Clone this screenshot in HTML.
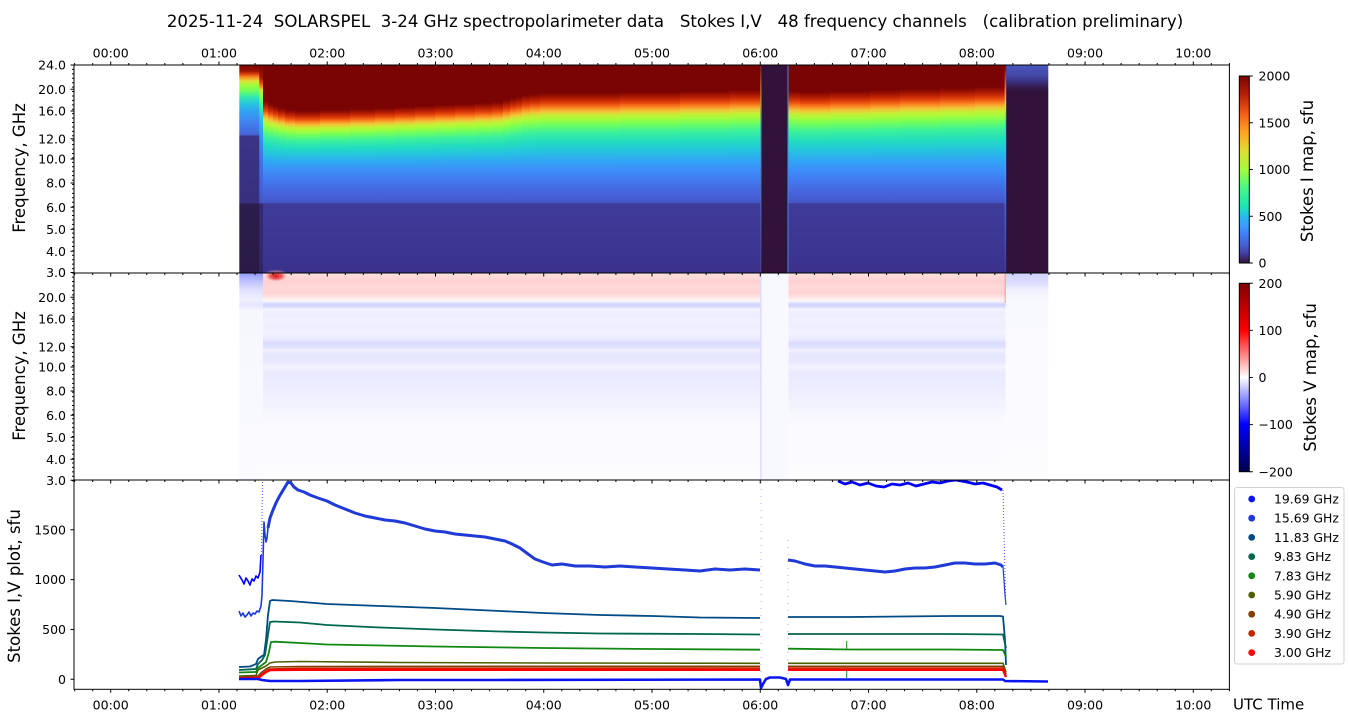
<!DOCTYPE html>
<html><head><meta charset="utf-8"><style>
html,body{margin:0;padding:0;background:#fff;}
svg{display:block;font-family:"DejaVu Sans","Liberation Sans",sans-serif;}
</style></head><body>
<svg width="1350" height="725" viewBox="0 0 1350 725" xmlns="http://www.w3.org/2000/svg">
<defs>
<linearGradient id="gU" x1="0" y1="0" x2="0" y2="1">
<stop offset="0" stop-color="#7a0403"/><stop offset=".049" stop-color="#a01402"/><stop offset=".098" stop-color="#c82a06"/><stop offset=".146" stop-color="#ea4f0f"/><stop offset=".195" stop-color="#fb8a22"/><stop offset=".244" stop-color="#f0c53a"/><stop offset=".293" stop-color="#c4f036"/><stop offset=".341" stop-color="#a4fc3c"/><stop offset=".415" stop-color="#6efe5f"/><stop offset=".512" stop-color="#3bf09c"/><stop offset=".634" stop-color="#22dcbf"/><stop offset=".756" stop-color="#26c3e0"/><stop offset=".878" stop-color="#30a6f4"/><stop offset="1" stop-color="#3c8ef8"/>
</linearGradient>
<linearGradient id="gL" gradientUnits="userSpaceOnUse" x1="0" y1="170" x2="0" y2="273">
<stop offset="0" stop-color="#3c8ef8"/><stop offset=".097" stop-color="#427af0"/><stop offset=".194" stop-color="#4668e0"/><stop offset=".291" stop-color="#465bcf"/><stop offset=".32" stop-color="#4556c6"/><stop offset=".325" stop-color="#3f3b98"/><stop offset=".68" stop-color="#3d3794"/><stop offset="1" stop-color="#3a318c"/>
</linearGradient>
<linearGradient id="gE" gradientUnits="userSpaceOnUse" x1="0" y1="65" x2="0" y2="273">
<stop offset="0" stop-color="#7a0403"/><stop offset=".029" stop-color="#9a1202"/><stop offset=".043" stop-color="#d8400c"/><stop offset=".058" stop-color="#fb8a22"/><stop offset=".077" stop-color="#dfe035"/><stop offset=".096" stop-color="#a4fc3c"/><stop offset=".125" stop-color="#6efe5f"/><stop offset=".154" stop-color="#30e8b0"/><stop offset=".188" stop-color="#26c3e0"/><stop offset=".226" stop-color="#32a0f4"/><stop offset=".274" stop-color="#4282ee"/><stop offset=".327" stop-color="#4668dc"/><stop offset=".337" stop-color="#4660d4"/><stop offset=".341" stop-color="#3a3487"/><stop offset=".663" stop-color="#37307e"/><stop offset=".668" stop-color="#2c1d4c"/><stop offset="1" stop-color="#2b1a47"/>
</linearGradient>
<linearGradient id="gT" gradientUnits="userSpaceOnUse" x1="0" y1="65" x2="0" y2="273">
<stop offset="0" stop-color="#7a0403"/><stop offset=".0625" stop-color="#a01402"/><stop offset=".091" stop-color="#ea5a12"/><stop offset=".12" stop-color="#e8d838"/><stop offset=".149" stop-color="#90fc48"/><stop offset=".197" stop-color="#40eea0"/><stop offset=".255" stop-color="#24c8dc"/><stop offset=".337" stop-color="#3896f4"/><stop offset=".457" stop-color="#4472e8"/><stop offset=".601" stop-color="#4660d6"/><stop offset=".663" stop-color="#4456c4"/><stop offset=".668" stop-color="#352a70"/><stop offset="1" stop-color="#332866"/>
</linearGradient>
<linearGradient id="gR" gradientUnits="userSpaceOnUse" x1="0" y1="65" x2="0" y2="273">
<stop offset="0" stop-color="#4a56bc"/><stop offset=".05" stop-color="#4448a8"/><stop offset=".08" stop-color="#3a2f80"/><stop offset=".11" stop-color="#32184a"/><stop offset=".13" stop-color="#30123b"/><stop offset="1" stop-color="#30123b"/>
</linearGradient>
<linearGradient id="gVl" gradientUnits="userSpaceOnUse" x1="0" y1="65" x2="0" y2="273">
<stop offset="0" stop-color="#7a0403"/><stop offset=".12" stop-color="#f08020"/><stop offset=".2" stop-color="#e0e040"/><stop offset=".3" stop-color="#30e0c0"/><stop offset=".5" stop-color="#3e9bfe"/><stop offset=".7" stop-color="#4460d0"/><stop offset="1" stop-color="#3e3a95"/>
</linearGradient>
<linearGradient id="vM" gradientUnits="userSpaceOnUse" x1="0" y1="273" x2="0" y2="480">
<stop offset="0" stop-color="#ffe4e4"/><stop offset=".014" stop-color="#ffdcdc"/><stop offset=".039" stop-color="#ffd0d0"/><stop offset=".068" stop-color="#ffd8d8"/><stop offset=".097" stop-color="#ffd2d2"/><stop offset=".116" stop-color="#ffe2e2"/><stop offset=".13" stop-color="#fff4f4"/><stop offset=".14" stop-color="#f0f0ff"/><stop offset=".15" stop-color="#d0d0ff"/><stop offset=".164" stop-color="#dcdcff"/><stop offset=".174" stop-color="#f4f4ff"/><stop offset=".198" stop-color="#ececff"/><stop offset=".227" stop-color="#f0f0ff"/><stop offset=".256" stop-color="#eeeeff"/><stop offset=".29" stop-color="#f2f2ff"/><stop offset=".324" stop-color="#e8e8ff"/><stop offset=".338" stop-color="#dadaff"/><stop offset=".357" stop-color="#e0e0ff"/><stop offset=".372" stop-color="#f0f0ff"/><stop offset=".396" stop-color="#e6e6ff"/><stop offset=".43" stop-color="#e8e8ff"/><stop offset=".454" stop-color="#f2f2ff"/><stop offset=".483" stop-color="#eaeaff"/><stop offset=".541" stop-color="#ececff"/><stop offset=".589" stop-color="#efefff"/><stop offset=".662" stop-color="#f4f4ff"/><stop offset=".71" stop-color="#f9f9ff"/><stop offset="1" stop-color="#fcfcff"/>
</linearGradient>
<linearGradient id="vE" gradientUnits="userSpaceOnUse" x1="0" y1="273" x2="0" y2="480">
<stop offset="0" stop-color="#9098ff"/><stop offset=".034" stop-color="#b8bcff"/><stop offset=".082" stop-color="#e0e0ff"/><stop offset=".13" stop-color="#f0f0ff"/><stop offset=".155" stop-color="#e4e4ff"/><stop offset=".18" stop-color="#f6f6ff"/><stop offset="1" stop-color="#fafaff"/>
</linearGradient>
<linearGradient id="vP" gradientUnits="userSpaceOnUse" x1="0" y1="273" x2="0" y2="480">
<stop offset="0" stop-color="#d0d0ff"/><stop offset=".048" stop-color="#dcdcff"/><stop offset=".082" stop-color="#f0f0ff"/><stop offset=".13" stop-color="#f8f8ff"/><stop offset="1" stop-color="#fcfcff"/>
</linearGradient>
<radialGradient id="rb">
<stop offset="0" stop-color="#d81010"/><stop offset=".5" stop-color="#ee5050" stop-opacity=".8"/><stop offset="1" stop-color="#ffffff" stop-opacity="0"/>
</radialGradient>
<linearGradient id="cI" x1="0" y1="0" x2="0" y2="1">
<stop offset="0" stop-color="#7a0403"/><stop offset=".1" stop-color="#b72008"/><stop offset=".2" stop-color="#f45c17"/><stop offset=".3" stop-color="#ffa323"/><stop offset=".4" stop-color="#e0dc32"/><stop offset=".5" stop-color="#a4fc3c"/><stop offset=".6" stop-color="#46f884"/><stop offset=".7" stop-color="#1ae4b6"/><stop offset=".75" stop-color="#28bceb"/><stop offset=".8" stop-color="#3e9bfe"/><stop offset=".85" stop-color="#417bf5"/><stop offset=".9" stop-color="#4662d7"/><stop offset=".95" stop-color="#433e9f"/><stop offset="1" stop-color="#30123b"/>
</linearGradient>
<linearGradient id="cV" x1="0" y1="0" x2="0" y2="1">
<stop offset="0" stop-color="#800000"/><stop offset=".25" stop-color="#ff0000"/><stop offset=".5" stop-color="#ffffff"/><stop offset=".75" stop-color="#0000ff"/><stop offset="1" stop-color="#00004c"/>
</linearGradient>
<clipPath id="cb"><rect x="74" y="480" width="1155.4" height="209.3"/></clipPath>
<g id="xt" stroke="#000" stroke-width="1" fill="none">
<path d="M74.62 0v2M92.66 0v2M128.74 0v2M146.79 0v2M164.83 0v2M182.87 0v2M200.92 0v2M237 0v2M255.05 0v2M273.09 0v2M291.13 0v2M309.18 0v2M345.26 0v2M363.31 0v2M381.35 0v2M399.39 0v2M417.44 0v2M453.52 0v2M471.57 0v2M489.61 0v2M507.65 0v2M525.7 0v2M561.78 0v2M579.83 0v2M597.87 0v2M615.91 0v2M633.96 0v2M670.04 0v2M688.09 0v2M706.13 0v2M724.17 0v2M742.22 0v2M778.3 0v2M796.35 0v2M814.39 0v2M832.43 0v2M850.48 0v2M886.56 0v2M904.61 0v2M922.65 0v2M940.69 0v2M958.74 0v2M994.82 0v2M1012.87 0v2M1030.91 0v2M1048.95 0v2M1067 0v2M1103.08 0v2M1121.13 0v2M1139.17 0v2M1157.21 0v2M1175.26 0v2M1211.34 0v2M1229.39 0v2"/>
<path d="M110.7 0v3.5M218.96 0v3.5M327.22 0v3.5M435.48 0v3.5M543.74 0v3.5M652 0v3.5M760.26 0v3.5M868.52 0v3.5M976.78 0v3.5M1085.04 0v3.5M1193.3 0v3.5"/>
</g>
<path id="ym" stroke="#000" stroke-width="1" fill="none" d="M74 65h-2m2 4.4255h-2m2 4.4255h-2m2 4.4255h-2m2 4.4255h-2m2 4.4255h-2m2 4.4255h-2m2 4.4255h-2m2 4.4255h-2m2 4.4255h-2m2 4.4255h-2m2 4.4255h-2m2 4.4255h-2m2 4.4255h-2m2 4.4255h-2m2 4.4255h-2m2 4.4255h-2m2 4.4255h-2m2 4.4255h-2m2 4.4255h-2m2 4.4255h-2m2 4.4255h-2m2 4.4255h-2m2 4.4255h-2m2 4.4255h-2m2 4.4255h-2m2 4.4255h-2m2 4.4255h-2m2 4.4255h-2m2 4.4255h-2m2 4.4255h-2m2 4.4255h-2m2 4.4255h-2m2 4.4255h-2m2 4.4255h-2m2 4.4255h-2m2 4.4255h-2m2 4.4255h-2m2 4.4255h-2m2 4.4255h-2m2 4.4255h-2m2 4.4255h-2m2 4.4255h-2m2 4.4255h-2m2 4.4255h-2m2 4.4255h-2m2 4.4255h-2m2 4.4255h-2"/>
</defs>

<rect width="1350" height="725" fill="#fff"/>

<text x="675" y="27" font-size="16.6" text-anchor="middle" style="white-space:pre" xml:space="preserve">2025-11-24  SOLARSPEL  3-24 GHz spectropolarimeter data   Stokes I,V   48 frequency channels   (calibration preliminary)</text>

<!-- ===== Top panel (Stokes I map) ===== -->
<rect x="239.3" y="65" width="20.3" height="208" fill="url(#gE)"/>
<rect x="259.3" y="65" width="4.2" height="208" fill="url(#gT)"/>
<rect x="263" y="65" width="497.3" height="50" fill="#7a0403"/>
<rect x="788.3" y="65" width="217.4" height="50" fill="#7a0403"/>
<g fill="url(#gU)">
<rect x="263" y="101" width="5.5" height="69"/>
<rect x="268" y="104" width="5.5" height="66"/>
<rect x="273" y="106" width="5.5" height="64"/>
<rect x="278" y="108" width="7.5" height="62"/>
<rect x="285" y="110" width="10.5" height="60"/>
<rect x="295" y="111" width="25.5" height="59"/>
<rect x="320" y="110" width="30.5" height="60"/>
<rect x="350" y="109" width="25.5" height="61"/>
<rect x="375" y="108" width="20.5" height="62"/>
<rect x="395" y="107" width="20.5" height="63"/>
<rect x="415" y="106" width="20.5" height="64"/>
<rect x="435" y="105" width="20.5" height="65"/>
<rect x="455" y="104" width="20.5" height="66"/>
<rect x="475" y="103" width="17.5" height="67"/>
<rect x="492" y="102" width="11.5" height="68"/>
<rect x="503" y="100" width="7.5" height="70"/>
<rect x="510" y="98" width="6.5" height="72"/>
<rect x="516" y="97" width="6.5" height="73"/>
<rect x="522" y="95" width="8.5" height="75"/>
<rect x="530" y="94" width="10.5" height="76"/>
<rect x="540" y="93" width="80.5" height="77"/>
<rect x="620" y="92" width="60.5" height="78"/>
<rect x="680" y="91" width="50.5" height="79"/>
<rect x="730" y="90" width="30.3" height="80"/>
<rect x="788.3" y="91" width="12" height="79"/>
<rect x="800" y="92" width="30.5" height="78"/>
<rect x="830" y="91" width="40.5" height="79"/>
<rect x="870" y="90" width="30.5" height="80"/>
<rect x="900" y="89" width="40.5" height="81"/>
<rect x="940" y="88" width="35.5" height="82"/>
<rect x="975" y="87" width="30.7" height="83"/>
</g>
<rect x="263" y="170" width="497.3" height="103" fill="url(#gL)"/>
<rect x="788.3" y="170" width="217.4" height="103" fill="url(#gL)"/>
<rect x="760.3" y="65" width="28" height="208" fill="#30123b"/>
<rect x="760.3" y="65" width="1.2" height="208" fill="url(#gVl)" opacity=".8"/>
<rect x="787.3" y="65" width="1.2" height="208" fill="#3a9af0" opacity=".7"/>
<rect x="1005.7" y="65" width="42.6" height="208" fill="url(#gR)"/>
<rect x="1004.6" y="65" width="1.6" height="208" fill="url(#gVl)"/>

<!-- ===== Middle panel (Stokes V map) ===== -->
<rect x="239.3" y="273" width="24" height="207" fill="url(#vE)"/>
<rect x="263" y="273" width="497.3" height="207" fill="url(#vM)"/>
<rect x="788.3" y="273" width="217.4" height="207" fill="url(#vM)"/>
<rect x="760.3" y="273" width="28" height="207" fill="#f8f8ff"/>
<rect x="760.3" y="273" width="1.2" height="207" fill="#c0c0ff" opacity=".6"/>
<rect x="1005.7" y="273" width="42.6" height="207" fill="url(#vP)"/>
<rect x="1004.6" y="273" width="1.4" height="30" fill="#ff8080" opacity=".6"/>
<ellipse cx="276" cy="276" rx="13" ry="6.5" fill="url(#rb)"/>

<!-- ===== Bottom panel (lines) ===== -->
<g clip-path="url(#cb)" fill="none" stroke-linejoin="round">
<line x1="761" y1="482" x2="761" y2="675" stroke="#7070ff" stroke-width="1" stroke-dasharray="1 6" opacity=".6"/>
<line x1="788" y1="540" x2="788" y2="675" stroke="#7070ff" stroke-width="1" stroke-dasharray="1 6" opacity=".6"/>
<polyline stroke="#0000ff" stroke-width="1.6" points="239,575 242,580 244,584 246,578 248,581 250,585 252,579 254,581 256,576 258,578 260,572 261,555"/>
<line x1="261.5" y1="555" x2="262.5" y2="480" stroke="#0000ff" stroke-width="1" stroke-dasharray="1 2" opacity=".7"/>
<polyline stroke="#0000ff" stroke-width="2.8" points="838,481 845,484 852,482 860,485 868,483 876,486 884,487 892,484 900,485 908,483 916,486 924,484 932,482 940,483 948,481 956,480 967,482 975,484 983,483 990,485 997,487 1002,490"/>
<line x1="1003" y1="490" x2="1005.5" y2="596" stroke="#0000ff" stroke-width="1" stroke-dasharray="1 2" opacity=".7"/>
<polyline stroke="#1f3ad6" stroke-width="1.6" points="239,611 241,616 243,613 245,617 247,615 249,612 251,616 253,613 255,614 257,611 259,612 261,606 262,595 263,560 264,522 265,535 266,542 267,538 268,528"/>
<polyline stroke="#1f3ad6" stroke-width="3" points="268,528 270,518 273,510 276,503 279,497 282,492 285,487 288,482 291,483 294,487 298,490 304,492 310,495 318,498 327,501 335,505 345,509 355,513 365,516 375,518 385,520 395,521 405,523 415,526 425,529 435,531 445,532 455,534 465,535 475,536 485,537 495,539 505,541 512,544 520,548 528,554 535,559 543,562 552,565 562,564 575,566 590,566 605,567 620,566 635,567 652,568 668,569 685,570 700,571 715,569 730,570 745,569 760,570"/>
<polyline stroke="#1f3ad6" stroke-width="3" points="788,560 795,561 805,564 815,566 825,566 835,567 845,568 855,569 865,570 875,571 885,572 895,571 905,569 915,568 925,568 935,567 945,565 955,563 965,563 975,564 985,564 995,563 1001,565 1003,567"/>
<polyline stroke="#1f3ad6" stroke-width="1.2" points="1003,567 1004,580 1005,595 1006,605"/>
<polyline stroke="#004a86" stroke-width="1.8" points="239,667 250,666.5 256,664 258,659 262,656 264,655 266,640 268,615 270,601 272,600 290,601 327,604 380,606 435,608 500,611 543,613 600,615 652,616 700,617.5 760,618"/>
<polyline stroke="#004a86" stroke-width="1.8" points="788,617 850,617 900,616.5 950,616 1000,616 1003,616.5 1005,640 1006,665"/>
<polyline stroke="#00664f" stroke-width="1.8" points="239,670 256,669 258,664 262,660 265,655 268,635 270,622 274,621.5 300,622.5 327,625 380,627.5 435,629.5 500,631.5 543,632.5 600,633.5 700,634 760,634.5"/>
<polyline stroke="#00664f" stroke-width="1.8" points="788,634 850,634 950,634 1003,634.5 1006,648"/>
<polyline stroke="#118811" stroke-width="1.8" points="239,672.5 256,672 258,668 262,665 266,662 269,652 271,642 275,641.7 300,643 327,644.5 435,646.5 543,648 652,649 760,649.7"/>
<polyline stroke="#118811" stroke-width="1.8" points="788,648.7 850,649.5 950,649.5 1003,650 1006,657"/>
<path stroke="#118811" stroke-width="1" d="M846.7 641V650M846.7 670V678"/>
<polyline stroke="#4b6100" stroke-width="1.6" points="239,676 256,675.5 258,670 262,668 266,666 270,663 275,662 300,661.5 400,662.5 543,663 760,663.3"/>
<polyline stroke="#4b6100" stroke-width="1.6" points="788,663.3 1003,663.3 1006,672"/>
<polyline stroke="#7f4000" stroke-width="1.6" points="239,677.5 258,676 262,672 266,669 270,667 300,666.5 543,666.3 760,666.3"/>
<polyline stroke="#7f4000" stroke-width="1.6" points="788,666.3 1003,666.3 1006,674"/>
<polyline stroke="#c42800" stroke-width="1.6" points="239,678 258,677 262,674 266,671 270,669 300,668.3 760,668"/>
<polyline stroke="#c42800" stroke-width="1.6" points="788,668 1003,668 1006,676"/>
<polyline stroke="#ff0000" stroke-width="2.4" points="239,678.5 258,678 262,675 266,672 270,670 300,669.8 760,669.8"/>
<polyline stroke="#ff0000" stroke-width="2.4" points="788,669.8 1003,669.8 1006,677"/>
<polyline stroke="#0a14f0" stroke-width="2.6" points="239,679 258,679 262,680 270,681 300,681 400,680 500,680 760,679.5 761,688 763,684 766,679 770,677.5 780,677.5 786,679 788,685 790,679.5 1003,679.5 1005,681 1048,681.5"/>
</g>

<!-- ===== Spines ===== -->
<g fill="none" stroke="#000" stroke-width="1">
<rect x="74" y="65" width="1155.4" height="208"/>
<rect x="74" y="273" width="1155.4" height="207"/>
<rect x="74" y="480" width="1155.4" height="209.3"/>
</g>

<!-- ===== X ticks ===== -->
<use href="#xt" transform="translate(0,65) scale(1,-1)"/>
<use href="#xt" transform="translate(0,273)"/>
<use href="#xt" transform="translate(0,480)"/>
<use href="#xt" transform="translate(0,689.3)"/>

<g font-size="12.5" text-anchor="middle" fill="#000">
<text x="110.7" y="57.3">00:00</text><text x="218.96" y="57.3">01:00</text><text x="327.22" y="57.3">02:00</text><text x="435.48" y="57.3">03:00</text><text x="543.74" y="57.3">04:00</text><text x="652" y="57.3">05:00</text><text x="760.26" y="57.3">06:00</text><text x="868.52" y="57.3">07:00</text><text x="976.78" y="57.3">08:00</text><text x="1085.04" y="57.3">09:00</text><text x="1193.3" y="57.3">10:00</text>
<text x="110.7" y="709.3">00:00</text><text x="218.96" y="709.3">01:00</text><text x="327.22" y="709.3">02:00</text><text x="435.48" y="709.3">03:00</text><text x="543.74" y="709.3">04:00</text><text x="652" y="709.3">05:00</text><text x="760.26" y="709.3">06:00</text><text x="868.52" y="709.3">07:00</text><text x="976.78" y="709.3">08:00</text><text x="1085.04" y="709.3">09:00</text><text x="1193.3" y="709.3">10:00</text>
</g>
<text x="1233" y="709.5" font-size="15">UTC Time</text>

<!-- ===== Y ticks ===== -->
<use href="#ym"/>
<use href="#ym" transform="translate(0,207.7)"/>
<path stroke="#000" stroke-width="1" fill="none" d="M74 65h-3.5M74 89.3h-3.5M74 111h-3.5M74 138.7h-3.5M74 159h-3.5M74 183h-3.5M74 207.3h-3.5M74 229.3h-3.5M74 251.3h-3.5M74 272.5h-3.5M74 297.3h-3.5M74 319h-3.5M74 346.7h-3.5M74 367h-3.5M74 391h-3.5M74 415.3h-3.5M74 437.3h-3.5M74 459.3h-3.5M74 480.3h-3.5M74 679.3h-3.5M74 629.5h-3.5M74 579.6h-3.5M74 529.8h-3.5"/>
<g font-size="12.5" text-anchor="end" fill="#000">
<text x="66" y="69.6">24.0</text><text x="66" y="93.9">20.0</text><text x="66" y="115.6">16.0</text><text x="66" y="143.3">12.0</text><text x="66" y="163.6">10.0</text><text x="66" y="187.6">8.0</text><text x="66" y="211.9">6.0</text><text x="66" y="233.9">5.0</text><text x="66" y="255.9">4.0</text><text x="66" y="277.1">3.0</text>
<text x="66" y="301.9">20.0</text><text x="66" y="323.6">16.0</text><text x="66" y="351.3">12.0</text><text x="66" y="371.6">10.0</text><text x="66" y="395.6">8.0</text><text x="66" y="419.9">6.0</text><text x="66" y="441.9">5.0</text><text x="66" y="463.9">4.0</text><text x="66" y="484.9">3.0</text>
<text x="66" y="683.9">0</text><text x="66" y="634.1">500</text><text x="66" y="584.2">1000</text><text x="66" y="534.4">1500</text>
</g>
<g font-size="16.5" text-anchor="middle" fill="#000">
<text transform="translate(25,168) rotate(-90)">Frequency, GHz</text>
<text transform="translate(25,376) rotate(-90)">Frequency, GHz</text>
<text transform="translate(20,586) rotate(-90)">Stokes I,V plot, sfu</text>
<text transform="translate(1313,171) rotate(-90)">Stokes I map, sfu</text>
<text transform="translate(1316,377.5) rotate(-90)">Stokes V map, sfu</text>
</g>

<!-- ===== Colorbars ===== -->
<rect x="1239.3" y="76" width="10" height="187" fill="url(#cI)" stroke="#000" stroke-width="1"/>
<rect x="1239.3" y="283.3" width="10" height="188.4" fill="url(#cV)" stroke="#000" stroke-width="1"/>
<path stroke="#000" stroke-width="1" fill="none" d="M1249.3 76h3.5M1249.3 122.75h3.5M1249.3 169.5h3.5M1249.3 216.25h3.5M1249.3 263h3.5M1249.3 283.3h3.5M1249.3 330.4h3.5M1249.3 377.5h3.5M1249.3 424.6h3.5M1249.3 471.7h3.5"/>
<g font-size="12.5" fill="#000">
<text x="1258.5" y="80.6">2000</text><text x="1258.5" y="127.3">1500</text><text x="1258.5" y="174.1">1000</text><text x="1258.5" y="220.8">500</text><text x="1258.5" y="267.6">0</text>
<text x="1258.5" y="287.9">200</text><text x="1258.5" y="335">100</text><text x="1258.5" y="382.1">0</text><text x="1258.5" y="429.2">−100</text><text x="1258.5" y="476.3">−200</text>
</g>

<!-- ===== Legend ===== -->
<rect x="1234.5" y="487.5" width="109.5" height="176.5" rx="2.5" fill="#fff" stroke="#d0d0d0" stroke-width="1"/>
<g>
<circle cx="1251.7" cy="499" r="3.4" fill="#0a14f0"/>
<circle cx="1251.7" cy="518.2" r="3.4" fill="#1f3ad6"/>
<circle cx="1251.7" cy="537.4" r="3.4" fill="#004a86"/>
<circle cx="1251.7" cy="556.6" r="3.4" fill="#00664f"/>
<circle cx="1251.7" cy="575.8" r="3.4" fill="#118811"/>
<circle cx="1251.7" cy="595" r="3.4" fill="#4b6100"/>
<circle cx="1251.7" cy="614.2" r="3.4" fill="#7f4000"/>
<circle cx="1251.7" cy="633.4" r="3.4" fill="#c42800"/>
<circle cx="1251.7" cy="652.6" r="3.4" fill="#ff0a0a"/>
</g>
<g font-size="12.4" fill="#000">
<text x="1274" y="503.5">19.69 GHz</text>
<text x="1274" y="522.7">15.69 GHz</text>
<text x="1274" y="541.9">11.83 GHz</text>
<text x="1274" y="561.1">9.83 GHz</text>
<text x="1274" y="580.3">7.83 GHz</text>
<text x="1274" y="599.5">5.90 GHz</text>
<text x="1274" y="618.7">4.90 GHz</text>
<text x="1274" y="637.9">3.90 GHz</text>
<text x="1274" y="657.1">3.00 GHz</text>
</g>
</svg>
</body></html>
